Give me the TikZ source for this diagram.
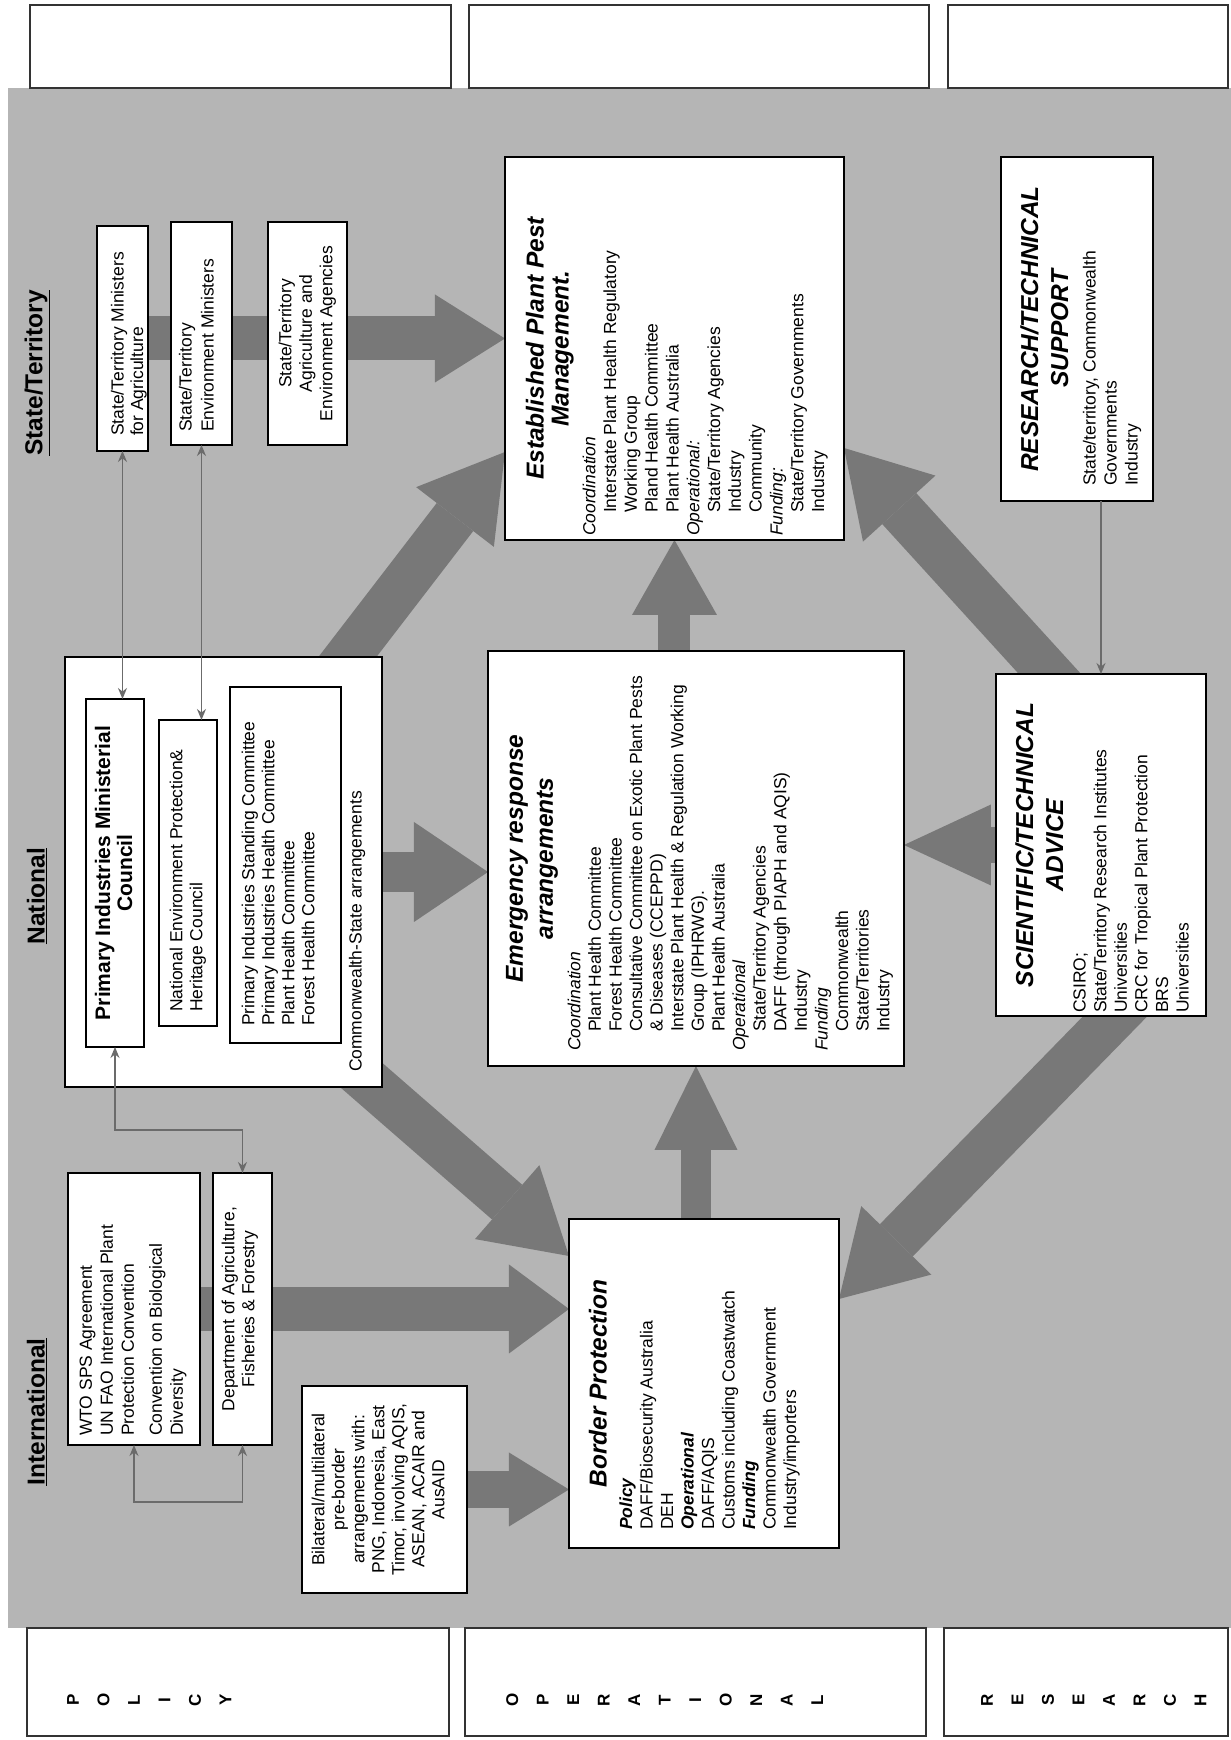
\documentclass[tikz,border=0pt]{standalone}
\usepackage{fontspec}
\setmainfont{Liberation Sans}
\usetikzlibrary{arrows.meta,calc}
\pgfdeclarelayer{bglayer}
\pgfdeclarelayer{arrowlayer}
\pgfsetlayers{bglayer,arrowlayer,main}
\definecolor{bggray}{gray}{0.71}
\definecolor{arrgray}{gray}{0.47}
\definecolor{thingray}{gray}{0.42}
\newcommand{\bxc}[3]{\begin{minipage}[c][#2pt][t]{#1pt}#3\end{minipage}}
\newcommand{\bodyfs}[1]{\fontsize{17.5}{#1}\selectfont}
\newcommand{\ttlfs}[1]{\fontsize{24.5}{#1}\selectfont\bfseries\itshape}
\newcommand{\indt}[1][19]{\hspace*{#1pt}}
\tikzset{
  wbox/.style={draw=black, line width=1.3pt, fill=white, inner sep=0pt, outer sep=0pt, anchor=south west},
  stripbox/.style={draw=black!80, line width=1.1pt, fill=white, inner sep=0pt, outer sep=0pt, anchor=south west},
  fatarrow/.style n args={3}{draw=arrgray, line width=#1pt, -{Triangle[length=#2pt 0 0,width=#3pt 0 0,line width=0pt 0 0]}},
  thinarrow/.style={draw=thingray, line width=1.2pt, {Stealth[length=11pt,width=9pt]}-{Stealth[length=11pt,width=9pt]}},
  thinone/.style={draw=thingray, line width=1.2pt, -{Stealth[length=11pt,width=9pt]}},
  secttitle/.style={font=\fontsize{24.5}{30}\selectfont\bfseries, inner sep=0pt},
  letters/.style={font=\fontsize{17}{30.5}\selectfont\bfseries, align=center, anchor=north, inner sep=0pt},
}
\begin{document}
\begin{tikzpicture}[x=1pt,y=1pt,rotate=90,transform shape]
\useasboundingbox (0,0) rectangle (1740,1231);
\begin{pgfonlayer}{bglayer}
\fill[bggray] (112,0) rectangle (1652,1223);
\end{pgfonlayer}

% strips
\node[stripbox, minimum width=83pt, minimum height=421pt] (topA) at (1652,780) {};
\node[stripbox, minimum width=83pt, minimum height=460pt] (topB) at (1652,302) {};
\node[stripbox, minimum width=83pt, minimum height=280pt] (topC) at (1652,3) {};
\node[stripbox, minimum width=108pt, minimum height=422pt] (pol) at (4,782) {};
\node[stripbox, minimum width=108pt, minimum height=461pt] (ope) at (4,305) {};
\node[stripbox, minimum width=108pt, minimum height=284pt] (rsc) at (4,3) {};
\node[letters] (polL) at (40,1164) {P\\O\\L\\I\\C\\Y};
\node[letters] (opeL) at (40,725) {O\\P\\E\\R\\A\\T\\I\\O\\N\\A\\L};
\node[letters] (rscL) at (40,250) {R\\E\\S\\E\\A\\R\\C\\H};

% section titles
\node[secttitle] (hST) at (1367,1194) {\underline{State/Territory}};
\node[secttitle] (hNat) at (844,1194) {\underline{National}};
\node[secttitle] (hInt) at (328,1194) {\underline{International}};

% state boxes
\node[wbox] (stag) at (1289,1083) {\bxc{225}{51}{\vspace*{14pt}\bodyfs{19.5}\leftskip=15pt State/Territory Ministers\\for Agriculture\par}};
\node[wbox] (stenv) at (1295,999) {\bxc{223}{61}{\vspace*{8pt}\bodyfs{22}\leftskip=13pt State/Territory\\Environment Ministers\par}};
\node[wbox] (stagen) at (1295,884) {\bxc{223}{79}{\vspace*{10.7pt}\bodyfs{20.5}\centering State/Territory\\Agriculture and\\Environment Agencies\par}};

% established
\node[wbox] (est) at (1200,387) {\bxc{383}{339}{\vspace*{21pt}{\centering\ttlfs{25}Established Plant Pest\\Management.\par}\vspace{5.8pt}{\bodyfs{20.8}\leftskip=4pt \textit{Coordination}\\\indt[23]Interstate Plant Health Regulatory\\\indt[23]Working Group\\\indt[23]Pland Health Committee\\\indt[23]Plant Health Australia\\\textit{Operational:}\\\indt[23]State/Territory Agencies\\\indt[23]Industry\\\indt[23]Community\\\textit{Funding:}\\\indt[23]State/Territory Governments\\\indt[23]Industry\par}}};

% research
\node[wbox] (res) at (1239,78) {\bxc{344}{152}{\vspace*{19.4pt}{\centering\ttlfs{30}RESEARCH/TECHNICAL\\SUPPORT\par}\vspace{6.5pt}{\bodyfs{21}\leftskip=15pt State/territory, Commonwealth\\Governments\\Industry\par}}};

% national
\node[wbox] (nat) at (653,849) {\bxc{430}{317}{\vspace*{284pt}\bodyfs{20.7}\leftskip=15pt Commonwealth-State arrangements\par}};
\node[wbox] (pimc) at (693,1087) {\bxc{348}{58}{\vspace*{9pt}\fontsize{21}{22}\selectfont\bfseries\centering Primary Industries Ministerial\\Council\par}};
\node[wbox] (neph) at (714,1014) {\bxc{306}{58}{\vspace*{10.7pt}\bodyfs{20}\leftskip=14pt National Environment Protection\&\\Heritage Council\par}};
\node[wbox] (pisc) at (697,890) {\bxc{356}{111}{\vspace*{11.7pt}\bodyfs{20}\leftskip=17pt Primary Industries Standing Committee\\Primary Industries Health Committee\\Plant Health Committee\\Forest Health Committee\par}};

% emergency
\node[wbox] (emg) at (674,327) {\bxc{415}{416}{\vspace*{18pt}{\centering\ttlfs{30}Emergency response\\arrangements\par}\vspace{6.9pt}{\bodyfs{20.6}\leftskip=15pt \textit{Coordination}\\\indt Plant Health Committee\\\indt Forest Health Committee\\\indt Consultative Committee on Exotic Plant Pests\\\indt \& Diseases (CCEPPD)\\\indt Interstate Plant Health \& Regulation Working\\\indt Group (IPHRWG).\\\indt Plant Health Australia\\\textit{Operational}\\\indt State/Territory Agencies\\\indt DAFF (through PIAPH and AQIS)\\\indt Industry\\\textit{Funding}\\\indt Commonwealth\\\indt State/Territories\\\indt Industry\par}}};

% scientific
\node[wbox] (sci) at (724,25) {\bxc{342}{210}{\vspace*{19.4pt}{\centering\ttlfs{30}SCIENTIFIC/TECHNICAL\\ADVICE\par}\vspace{1.9pt}{\bodyfs{20.6}\leftskip=3pt CSIRO;\\State/Territory Research Institutes\\Universities\\CRC for Tropical Plant Protection\\BRS\\Universities\par}}};

% international
\node[wbox] (wto) at (295,1031) {\bxc{272}{132}{\vspace*{11.7pt}\bodyfs{21}\leftskip=9pt WTO SPS Agreement\\UN FAO International Plant\\Protection Convention\par\vspace{7pt}Convention on Biological\\Diversity\par}};
\node[wbox] (daff) at (295,959) {\bxc{272}{59}{\vspace*{8.7pt}\bodyfs{20}\centering Department of Agriculture,\\Fisheries \& Forestry\par}};
\node[wbox] (bil) at (147,764) {\bxc{207}{165}{\vspace*{9.7pt}\bodyfs{20}\centering Bilateral/multilateral\\pre-border\\arrangements with:\\PNG, Indonesia, East\\Timor, involving AQIS,\\ASEAN, ACAIR and\\AusAID\par}};

% border
\node[wbox] (bor) at (192,392) {\bxc{329}{270}{\vspace*{20pt}{\centering\ttlfs{30}Border Protection\par}\vspace{5pt}{\bodyfs{20.5}\leftskip=18pt \textbf{\textit{Policy}}\\DAFF/Biosecurity Australia\\DEH\\\textbf{\textit{Operational}}\\DAFF/AQIS\\Customs including Coastwatch\\\textbf{\textit{Funding}}\\Commonwealth Government\\Industry/importers\par}}};

% fat arrows
\begin{pgfonlayer}{arrowlayer}
\draw[fatarrow={44}{70}{88}] (stag.center) -- (stag.center |- est.north);
\draw[fatarrow={46}{82}{98}] ($(nat.east)+(-24,-105.5)$) -- ($(est.north west)+(88,0)$);
\draw[fatarrow={40}{74}{100}] ($(nat.south)+(0,12)$) -- (nat.south |- emg.north);
\draw[fatarrow={46}{82}{98}] ($(nat.west)+(20,-128.5)$) -- ($(bor.north east)+(-37,0)$);
\draw[fatarrow={44}{60}{89}] (wto.center) -- (wto.center |- bor.north);
\draw[fatarrow={37}{60}{74}] ($(bil.south)+(0,12)$) -- (bil.south |- bor.north);
\draw[fatarrow={30}{84}{83}] ($(bor.east |- emg.west)+(-12,0)$) -- (emg.west);
\draw[fatarrow={32}{75}{85}] ($(emg.east |- est.west)+(-12,0)$) -- (est.west);
\draw[fatarrow={36}{87}{81}] ($(sci.north)+(0,-12)$) -- (sci.north |- emg.south);
\draw[fatarrow={46}{82}{98}] ($(sci.west)+(21,-35)$) -- ($(bor.south east)+(-80,0)$);
\draw[fatarrow={46}{82}{98}] ($(sci.east)+(-22,31)$) -- ($(est.south west)+(92,0)$);
\end{pgfonlayer}

% thin connectors
\draw[thinarrow] (stag.west) -- (pimc.east |- stag.west);
\draw[thinarrow] (stenv.west) -- (neph.east |- stenv.west);
\draw[thinarrow] (pimc.west) -- ++(-83,0) |- (daff.east);
\draw[thinarrow] (wto.west) -- ++(-57,0) |- (daff.west);
\draw[thinone] (res.west |- sci.east) -- (sci.east);
\end{tikzpicture}
\end{document}
